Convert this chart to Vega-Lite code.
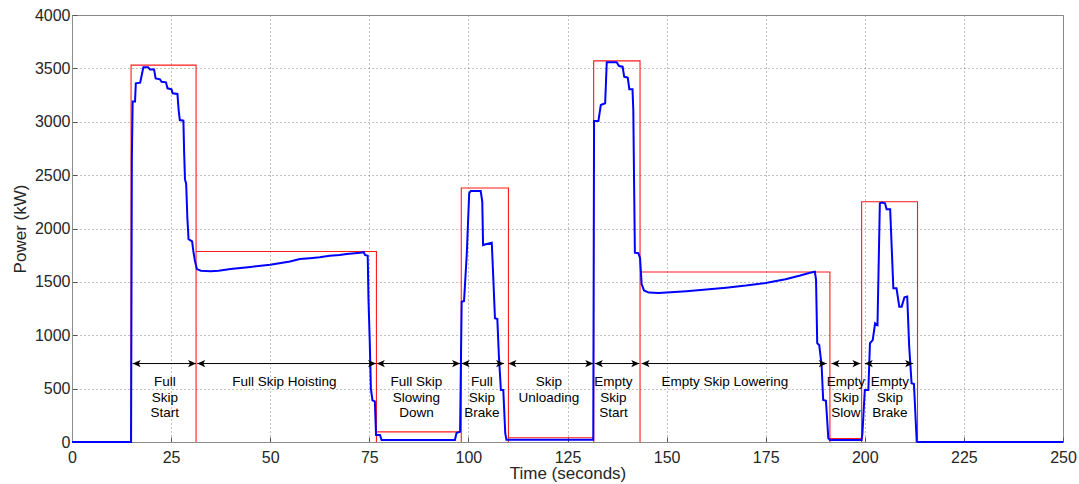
{
  "$schema": "https://vega.github.io/schema/vega-lite/v6.json",
  "width": 991,
  "height": 427,
  "autosize": {"type": "none"},
  "padding": {"left": 72, "top": 15, "right": 16, "bottom": 42},
  "background": "white",
  "config": {
    "font": "Liberation Sans",
    "view": {"stroke": "#8c8c8c", "strokeWidth": 1},
    "axis": {
      "domainColor": "#8c8c8c",
      "tickColor": "#555555",
      "labelColor": "#262626",
      "titleColor": "#262626",
      "labelFont": "Liberation Sans",
      "titleFont": "Liberation Sans",
      "labelFontSize": 16,
      "titleFontSize": 17,
      "titleFontWeight": "normal",
      "gridColor": "#808080",
      "gridDash": [1, 3],
      "gridOpacity": 1,
      "gridWidth": 1,
      "tickSize": -5
    }
  },
  "datasets": {
    "power": [
      {"t":0,"p":0},{"t":14.9,"p":0},{"t":15.1,"p":2660},{"t":15.3,"p":3190},{"t":15.9,"p":3190},{"t":16.1,"p":3360},{"t":17.2,"p":3366},{"t":18.0,"p":3510},{"t":19.2,"p":3510},{"t":19.7,"p":3490},{"t":20.7,"p":3490},{"t":21.1,"p":3406},{"t":22.2,"p":3397},{"t":22.6,"p":3375},{"t":23.7,"p":3369},{"t":24.1,"p":3313},{"t":25.1,"p":3303},{"t":25.4,"p":3266},{"t":26.6,"p":3260},{"t":26.9,"p":3110},{"t":27.2,"p":3016},{"t":28.1,"p":3010},{"t":28.3,"p":2700},{"t":28.5,"p":2460},{"t":28.8,"p":2420},{"t":29.1,"p":2100},{"t":29.4,"p":1900},{"t":30.3,"p":1880},{"t":30.6,"p":1790},{"t":31.0,"p":1700},{"t":31.5,"p":1620},{"t":32.5,"p":1605},{"t":35,"p":1600},{"t":37,"p":1605},{"t":40,"p":1620},{"t":45,"p":1640},{"t":50,"p":1660},{"t":55,"p":1690},{"t":57.5,"p":1714},{"t":60,"p":1722},{"t":62.5,"p":1730},{"t":65,"p":1745},{"t":67.5,"p":1752},{"t":69.3,"p":1761},{"t":72.7,"p":1773},{"t":73.6,"p":1778},{"t":73.9,"p":1752},{"t":74.6,"p":1745},{"t":74.8,"p":1330},{"t":75.1,"p":960},{"t":75.4,"p":500},{"t":75.8,"p":390},{"t":76.4,"p":380},{"t":76.7,"p":66},{"t":77.7,"p":66},{"t":78.1,"p":19},{"t":96.6,"p":19},{"t":97.0,"p":84},{"t":97.9,"p":97},{"t":98.3,"p":1314},{"t":98.9,"p":1321},{"t":99.6,"p":1768},{"t":100.2,"p":2330},{"t":100.6,"p":2351},{"t":103.1,"p":2351},{"t":103.5,"p":2251},{"t":103.7,"p":1845},{"t":104.6,"p":1855},{"t":105.9,"p":1867},{"t":106.3,"p":1518},{"t":106.7,"p":1159},{"t":107.3,"p":1152},{"t":107.7,"p":799},{"t":108.2,"p":487},{"t":108.8,"p":487},{"t":109.3,"p":80},{"t":109.6,"p":20},{"t":131.5,"p":20},{"t":131.7,"p":3007},{"t":132.8,"p":3007},{"t":133.4,"p":3157},{"t":134.5,"p":3173},{"t":134.9,"p":3557},{"t":137.4,"p":3557},{"t":138.0,"p":3522},{"t":138.9,"p":3516},{"t":139.3,"p":3422},{"t":140.2,"p":3413},{"t":140.6,"p":3304},{"t":141.4,"p":3304},{"t":141.6,"p":3110},{"t":141.8,"p":2423},{"t":142.0,"p":1773},{"t":142.9,"p":1768},{"t":143.3,"p":1721},{"t":143.7,"p":1480},{"t":144.3,"p":1420},{"t":145.5,"p":1400},{"t":148,"p":1395},{"t":150,"p":1400},{"t":155,"p":1412},{"t":160,"p":1428},{"t":165,"p":1445},{"t":170,"p":1465},{"t":175,"p":1490},{"t":180,"p":1525},{"t":183.7,"p":1560},{"t":186.2,"p":1586},{"t":187.4,"p":1595},{"t":187.7,"p":1518},{"t":188.0,"p":925},{"t":188.5,"p":909},{"t":189.1,"p":721},{"t":189.5,"p":393},{"t":190.2,"p":387},{"t":190.8,"p":35},{"t":191.2,"p":19},{"t":199.2,"p":19},{"t":199.4,"p":81},{"t":200.0,"p":487},{"t":200.9,"p":487},{"t":201.3,"p":925},{"t":202.0,"p":955},{"t":202.6,"p":1112},{"t":203.2,"p":1096},{"t":203.8,"p":2236},{"t":204.3,"p":2243},{"t":205.1,"p":2236},{"t":205.5,"p":2180},{"t":206.4,"p":2180},{"t":207.2,"p":1440},{"t":208.0,"p":1440},{"t":208.7,"p":1268},{"t":209.3,"p":1268},{"t":210.0,"p":1356},{"t":210.7,"p":1362},{"t":211.2,"p":893},{"t":211.8,"p":550},{"t":212.4,"p":543},{"t":213.1,"p":3},{"t":213.5,"p":0},{"t":250,"p":0}
    ],
    "box": [
      {"i":0,"t":0,"p":0},{"i":1,"t":14.9,"p":0},{"i":2,"t":14.9,"p":3530},{"i":3,"t":31.3,"p":3530},{"i":4,"t":31.3,"p":0},{"i":5,"t":31.3,"p":1785},{"i":6,"t":76.8,"p":1785},{"i":7,"t":76.8,"p":0},{"i":8,"t":76.8,"p":95},{"i":9,"t":98.2,"p":95},{"i":10,"t":98.2,"p":0},{"i":11,"t":98.2,"p":2380},{"i":12,"t":110.1,"p":2380},{"i":13,"t":110.1,"p":0},{"i":14,"t":110.1,"p":40},{"i":15,"t":131.6,"p":40},{"i":16,"t":131.6,"p":0},{"i":17,"t":131.6,"p":3570},{"i":18,"t":143.3,"p":3570},{"i":19,"t":143.3,"p":0},{"i":20,"t":143.3,"p":1592},{"i":21,"t":191.2,"p":1592},{"i":22,"t":191.2,"p":0},{"i":23,"t":191.2,"p":33},{"i":24,"t":199.2,"p":33},{"i":25,"t":199.2,"p":0},{"i":26,"t":199.2,"p":2250},{"i":27,"t":213.3,"p":2250},{"i":28,"t":213.3,"p":0},{"i":29,"t":250,"p":0}
    ],
    "phases": [
      {"t0":15.3,"t1":31.3,"tm":23.4,"label":"Full\nSkip\nStart"},
      {"t0":31.6,"t1":76.7,"tm":53.6,"label":"Full Skip Hoisting"},
      {"t0":76.9,"t1":97.9,"tm":86.9,"label":"Full Skip\nSlowing\nDown"},
      {"t0":98.3,"t1":109.0,"tm":103.4,"label":"Full\nSkip\nBrake"},
      {"t0":110.1,"t1":131.5,"tm":120.3,"label":"Skip\nUnloading"},
      {"t0":131.9,"t1":143.1,"tm":136.6,"label":"Empty\nSkip\nStart"},
      {"t0":143.7,"t1":190.4,"tm":164.7,"label":"Empty Skip Lowering"},
      {"t0":191.6,"t1":198.9,"tm":195.2,"label":"Empty\nSkip\nSlow"},
      {"t0":200.0,"t1":212.2,"tm":206.3,"label":"Empty\nSkip\nBrake"}
    ]
  },
  "layer": [
    {
      "data": {"name": "box"},
      "mark": {"type": "line", "color": "#ff1a1a", "strokeWidth": 1.1, "strokeJoin": "miter", "strokeCap": "butt"},
      "encoding": {
        "x": {"field": "t", "type": "quantitative", "title": "Time (seconds)", "scale": {"domain": [0, 250], "nice": false, "zero": false},
              "axis": {"values": [0,25,50,75,100,125,150,175,200,225,250], "format": "d", "grid": true, "labelPadding": 12, "labelFlush": false, "labelOverlap": false, "titlePadding": 0}},
        "y": {"field": "p", "type": "quantitative", "title": "Power (kW)", "scale": {"domain": [0, 4000], "nice": false},
              "axis": {"values": [0,500,1000,1500,2000,2500,3000,3500,4000], "format": "d", "grid": true, "labelPadding": 7, "labelFlush": false, "labelOverlap": false, "titlePadding": 5}},
        "order": {"field": "i", "type": "quantitative"}
      }
    },
    {
      "data": {"name": "power"},
      "mark": {"type": "line", "color": "#0000ff", "strokeWidth": 2, "strokeJoin": "miter"},
      "encoding": {
        "x": {"field": "t", "type": "quantitative", "title": "Time (seconds)"},
        "y": {"field": "p", "type": "quantitative", "title": "Power (kW)"}
      }
    },
    {
      "data": {"name": "phases"},
      "mark": {"type": "rule", "color": "black", "strokeWidth": 1},
      "encoding": {
        "x": {"field": "t0", "type": "quantitative", "title": "Time (seconds)"},
        "x2": {"field": "t1"},
        "y": {"datum": 735, "type": "quantitative", "title": "Power (kW)"}
      }
    },
    {
      "data": {"name": "phases"},
      "mark": {"type": "point", "shape": "M0,0L2,-0.9L1.5,0L2,0.9Z", "filled": true, "color": "black", "opacity": 1, "size": 64, "strokeWidth": 0},
      "encoding": {
        "x": {"field": "t0", "type": "quantitative", "title": "Time (seconds)"},
        "y": {"datum": 735, "type": "quantitative", "title": "Power (kW)"}
      }
    },
    {
      "data": {"name": "phases"},
      "mark": {"type": "point", "shape": "M0,0L-2,-0.9L-1.5,0L-2,0.9Z", "filled": true, "color": "black", "opacity": 1, "size": 64, "strokeWidth": 0},
      "encoding": {
        "x": {"field": "t1", "type": "quantitative", "title": "Time (seconds)"},
        "y": {"datum": 735, "type": "quantitative", "title": "Power (kW)"}
      }
    },
    {
      "data": {"name": "phases"},
      "mark": {"type": "text", "lineBreak": "\n", "baseline": "top", "align": "center", "font": "Liberation Sans", "fontSize": 13.5, "lineHeight": 15.5, "color": "black"},
      "encoding": {
        "x": {"field": "tm", "type": "quantitative", "title": "Time (seconds)"},
        "y": {"datum": 625, "type": "quantitative", "title": "Power (kW)"},
        "text": {"field": "label", "type": "nominal"}
      }
    }
  ]
}
